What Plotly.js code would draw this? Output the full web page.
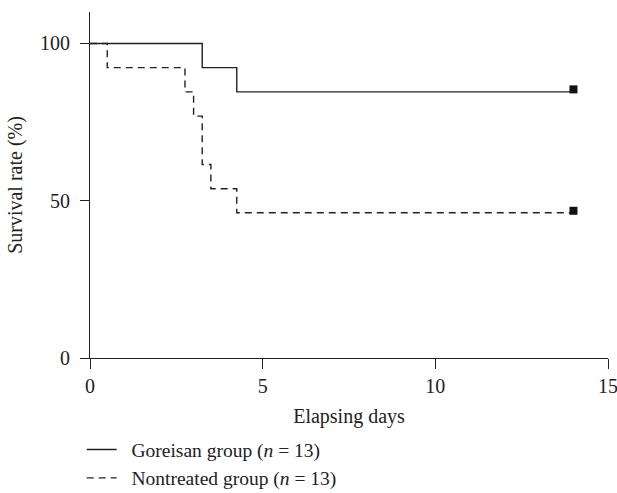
<!DOCTYPE html>
<html>
<head>
<meta charset="utf-8">
<script src="https://cdn.plot.ly/plotly-3.0.1.min.js"></script>
<style>html,body{margin:0;padding:0;background:#fff;}#chart{width:617px;height:493px;}</style>
</head>
<body>
<div id="chart"></div>
<script>
// Kaplan-Meier survival data (days, % surviving)
var goreisanDays = [0, 3.25, 4.25, 14];
var goreisanSurvival = [100, 92.3, 84.6, 84.6];
var nontreatedDays = [0, 0.5, 2.75, 3.0, 3.25, 3.5, 4.25, 14];
var nontreatedSurvival = [100, 92.3, 84.6, 76.9, 61.5, 53.8, 46.2, 46.2];
// censored endpoints
var censorDays = [14, 14];
var censorSurvival = [85.4, 46.8];
var seriesNames = ['&nbsp;&nbsp;Goreisan group (<i>n</i> = 13)', '&nbsp;&nbsp;Nontreated group (<i>n</i> = 13)'];
var xTicks = [0, 5, 10, 15];
var yTicks = [0, 50, 100];

var font = 'Liberation Serif, Times New Roman, serif';
var fs = 20;

var traces = [
  {x: goreisanDays, y: goreisanSurvival, mode: 'lines', line: {shape: 'hv', color: '#222', width: 1.4}, name: seriesNames[0]},
  {x: nontreatedDays, y: nontreatedSurvival, mode: 'lines', line: {shape: 'hv', color: '#222', width: 1.4, dash: '7px,5px'}, name: seriesNames[1]},
  {x: censorDays, y: censorSurvival, mode: 'markers', marker: {symbol: 'square', size: 8, color: '#111'}, showlegend: false, hoverinfo: 'skip'}
];

var layout = {
  width: 617, height: 493,
  margin: {l: 90, r: 9, t: 12, b: 135, autoexpand: false},
  paper_bgcolor: '#fff', plot_bgcolor: '#fff',
  font: {family: font, size: fs, color: '#222'},
  showlegend: true,
  legend: {x: -0.016, xanchor: 'left', y: -0.209, yanchor: 'top', orientation: 'v', font: {family: font, size: 19.5, color: '#222'}, bgcolor: 'rgba(0,0,0,0)', tracegroupgap: 0, itemwidth: 30},
  xaxis: {
    range: [0, 15], tickvals: xTicks, ticktext: xTicks.map(String),
    showgrid: false, zeroline: false, showline: true, linecolor: '#222', linewidth: 1,
    ticks: 'outside', ticklen: 10, tickcolor: '#222', tickwidth: 1, ticklabeloverflow: 'allow',
    tickfont: {family: font, size: fs, color: '#222'},
    title: {text: 'Elapsing days', font: {family: font, size: fs, color: '#222'}, standoff: 12}
  },
  yaxis: {
    range: [0, 110], tickvals: yTicks, ticktext: yTicks.map(String),
    showgrid: false, zeroline: false, showline: true, linecolor: '#222', linewidth: 1,
    ticks: 'outside', ticklen: 9, tickcolor: '#222', tickwidth: 1, ticklabelstandoff: 6,
    tickfont: {family: font, size: fs, color: '#222'},
    title: {text: 'Survival rate (%)', font: {family: font, size: fs, color: '#222'}, standoff: 12}
  }
};

Plotly.newPlot('chart', traces, layout, {displayModeBar: false, staticPlot: true});
</script>
</body>
</html>
